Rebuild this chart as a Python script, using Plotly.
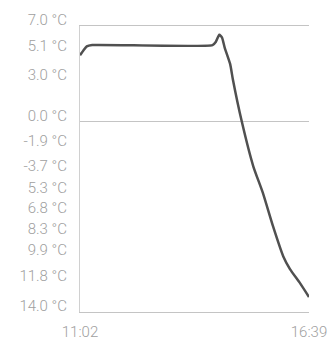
import plotly.graph_objects as go

day = "2024-01-01 "
times = ["11:02", "11:07", "11:12", "11:20", "14:17", "14:22", "14:27", "14:31",
         "14:35", "14:43", "14:47", "15:00", "15:17", "15:31", "15:46", "16:01",
         "16:11", "16:26", "16:39"]
temps = [4.85, 5.2, 5.5, 5.6, 5.6, 5.85, 6.35, 6.15,
         5.4, 4.2, 3.07, 0.0, -3.3, -5.24, -7.7, -9.9,
         -10.85, -11.9, -12.9]

y_tick_vals = [7.0, 5.1, 3.0, 0.0, -1.9, -3.7, -5.3, -6.8, -8.3, -9.9, -11.8, -14.0]
y_tick_text = ["7.0 °C", "5.1 °C", "3.0 °C", "0.0 °C", "-1.9 °C", "-3.7 °C",
               "5.3 °C", "6.8 °C", "8.3 °C", "9.9 °C", "11.8 °C", "14.0 °C"]
x_tick_times = ["11:02", "16:39"]

x = [day + t for t in times]
xr = [day + x_tick_times[0], day + x_tick_times[-1]]

fig = go.Figure()
fig.add_trace(go.Scatter(x=x, y=temps, mode="lines",
                         line=dict(color="#505050", width=2.5, shape="spline", smoothing=0.5),
                         hoverinfo="skip", showlegend=False))

# page body has an 8px margin, so the figure is offset by 8px right and down
fig.update_layout(
    width=328, height=335,
    margin=dict(l=72, r=27, t=18, b=31),
    paper_bgcolor="white", plot_bgcolor="white",
    font=dict(family="Roboto", size=15, color="#a0a0a0", weight=300),
    xaxis=dict(type="date", range=xr, tickvals=xr, ticktext=x_tick_times,
               showgrid=False, zeroline=False, showline=True, mirror=True,
               linecolor="#c4c4c4", linewidth=1, ticks="",
               ticklabelstandoff=6, automargin=False),
    yaxis=dict(range=[-14, 7], tickvals=y_tick_vals, ticktext=y_tick_text,
               showgrid=False, zeroline=True, zerolinecolor="#c4c4c4", zerolinewidth=1,
               showline=True, linecolor="#d0d0d0",
               linewidth=1, ticks="", ticklabelstandoff=9, ticklabelshift=-6,
               automargin=False),
)
fig.write_html("out.html")
